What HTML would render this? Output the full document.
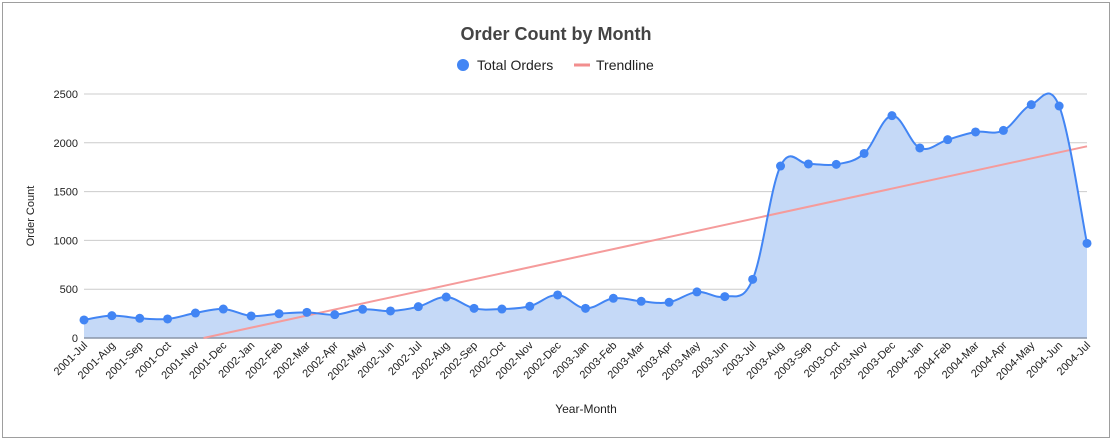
<!DOCTYPE html>
<html><head><meta charset="utf-8"><style>
body{margin:0;background:#fff;}
#wrap{position:relative;width:1116px;height:440px;font-family:"Liberation Sans",Arial,sans-serif;}
svg text{font-family:"Liberation Sans",Arial,sans-serif;}
</style></head><body>
<div id="wrap">
<svg id="chart" width="1116" height="440">
<rect x="2.5" y="2.5" width="1107" height="435" fill="#fff" stroke="#9e9e9e"/>
<text x="556" y="40" text-anchor="middle" font-size="18" font-weight="bold" fill="#444">Order Count by Month</text>
<g>
<g>
<circle cx="463" cy="65" r="6" fill="#4285f4"/>
<text x="477" y="70" font-size="14" fill="#222">Total Orders</text>
</g>
<g>
<line x1="574" y1="65" x2="590" y2="65" stroke="#f28e8e" stroke-width="3"/>
<text x="596" y="70" font-size="14" fill="#222">Trendline</text>
</g>
</g>
<g id="grid"></g>
<g id="marks"></g>
<g id="xlabels"></g>
<text transform="translate(34,216) rotate(-90)" text-anchor="middle" font-size="11" fill="#222">Order Count</text>
<text x="586" y="413" text-anchor="middle" font-size="12" fill="#222">Year-Month</text>
</svg>
</div>
<script>
const categories = ["2001-Jul","2001-Aug","2001-Sep","2001-Oct","2001-Nov","2001-Dec","2002-Jan","2002-Feb","2002-Mar","2002-Apr","2002-May","2002-Jun","2002-Jul","2002-Aug","2002-Sep","2002-Oct","2002-Nov","2002-Dec","2003-Jan","2003-Feb","2003-Mar","2003-Apr","2003-May","2003-Jun","2003-Jul","2003-Aug","2003-Sep","2003-Oct","2003-Nov","2003-Dec","2004-Jan","2004-Feb","2004-Mar","2004-Apr","2004-May","2004-Jun","2004-Jul"];
const orders = [185,229,202,195,256,297,226,249,263,239,294,277,321,420,304,297,325,441,304,407,376,366,472,424,601,1762,1783,1779,1891,2278,1947,2032,2111,2127,2391,2377,970];
const yTicks = [0,500,1000,1500,2000,2500];

const NS="http://www.w3.org/2000/svg";
const L=84,R=1087,T=94,B=338,YMAX=2500;
const xs=i=>L+(R-L)*i/(categories.length-1);
const ys=v=>B-(B-T)*v/YMAX;
function mk(tag,attrs,parent){const e=document.createElementNS(NS,tag);for(const k in attrs)e.setAttribute(k,attrs[k]);parent.appendChild(e);return e;}
const grid=document.getElementById('grid'),marks=document.getElementById('marks'),xl=document.getElementById('xlabels');

yTicks.forEach(t=>{
  const g=mk('line',{x1:L,x2:R,y1:ys(t),y2:ys(t),stroke:t===0?'#333':'#ccc','stroke-width':1},grid);
  
  
  const tx=mk('text',{x:L-6,y:ys(t)+4,'text-anchor':'end','font-size':11,fill:'#222'},grid);
  tx.textContent=t;
  
  
});

const pts=orders.map((v,i)=>[xs(i),ys(v)]);
const k=0.18;
let d='M'+pts[0][0]+','+pts[0][1];
for(let i=0;i<pts.length-1;i++){
  const p0=pts[i-1]||pts[i],p1=pts[i],p2=pts[i+1],p3=pts[i+2]||p2;
  const c1=[p1[0]+(p2[0]-p0[0])*k,p1[1]+(p2[1]-p0[1])*k];
  const c2=[p2[0]-(p3[0]-p1[0])*k,p2[1]-(p3[1]-p1[1])*k];
  d+=' C'+c1[0]+','+c1[1]+' '+c2[0]+','+c2[1]+' '+p2[0]+','+p2[1];
}
const area=mk('path',{d:d+' L'+R+','+B+' L'+L+','+B+' Z',fill:'#c5d9f7',stroke:'none'},marks);


const base=mk('line',{x1:L,x2:R,y1:B,y2:B,stroke:'#8a95a8','stroke-width':1.5},marks);



const n=orders.length;let sx=0,sy=0,sxy=0,sxx=0;
orders.forEach((v,i)=>{sx+=i;sy+=v;sxy+=i*v;sxx+=i*i;});
const slope=(n*sxy-sx*sy)/(n*sxx-sx*sx),icpt=(sy-slope*sx)/n;
const i0=Math.max(0,-icpt/slope);
const tl=mk('line',{x1:xs(i0),y1:ys(slope*i0+icpt),x2:xs(n-1),y2:ys(slope*(n-1)+icpt),stroke:'#f59b9b','stroke-width':2},marks);



const line=mk('path',{d:d,fill:'none',stroke:'#4285f4','stroke-width':2},marks);



pts.forEach((p,i)=>{
  const c=mk('circle',{cx:p[0],cy:p[1],r:4.5,fill:'#4285f4'},marks);
  
  
  const t=mk('text',{transform:'translate('+(p[0]+4)+','+(B+8)+') rotate(-45)','text-anchor':'end','font-size':11,fill:'#222'},xl);
  t.textContent=categories[i];
  
  
});
</script>
</body></html>
